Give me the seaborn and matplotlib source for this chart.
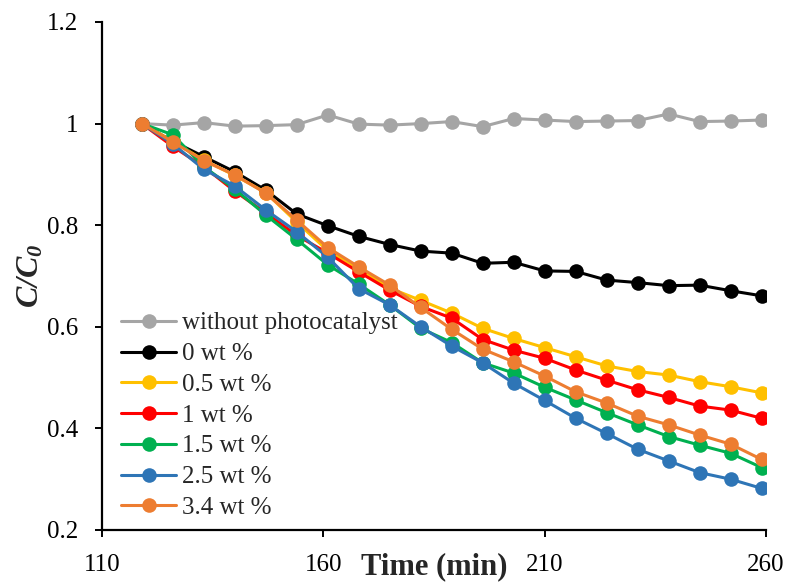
import numpy as np
import pandas as pd
import matplotlib
matplotlib.use("Agg")
import matplotlib.pyplot as plt
import seaborn as sns

# ---- data ----
time_min = [119 + 7 * i for i in range(21)]
series_names = ["without photocatalyst", "0 wt %", "0.5 wt %", "1 wt %",
                "1.5 wt %", "2.5 wt %", "3.4 wt %"]
without_photocatalyst = [1.000, 0.997, 1.002, 0.995, 0.996, 0.998, 1.017, 0.999, 0.997, 1.000,
                         1.004, 0.994, 1.010, 1.007, 1.004, 1.005, 1.006, 1.019, 1.004, 1.005, 1.007]
wt_0 = [1.000, 0.965, 0.935, 0.905, 0.869, 0.822, 0.799, 0.778, 0.762, 0.749,
        0.745, 0.725, 0.727, 0.710, 0.709, 0.692, 0.687, 0.681, 0.682, 0.671, 0.661]
wt_0_5 = [1.000, 0.965, 0.928, 0.898, 0.864, 0.806, 0.750, 0.715, 0.676, 0.652,
          0.627, 0.597, 0.577, 0.559, 0.541, 0.523, 0.512, 0.505, 0.492, 0.482, 0.470]
wt_1 = [1.000, 0.955, 0.915, 0.867, 0.824, 0.780, 0.745, 0.708, 0.672, 0.640,
        0.617, 0.575, 0.554, 0.538, 0.515, 0.495, 0.476, 0.461, 0.444, 0.436, 0.420]
wt_1_5 = [1.000, 0.978, 0.915, 0.871, 0.820, 0.772, 0.722, 0.684, 0.643, 0.597,
          0.569, 0.529, 0.509, 0.481, 0.456, 0.431, 0.407, 0.384, 0.367, 0.351, 0.323]
wt_2_5 = [1.000, 0.960, 0.910, 0.877, 0.830, 0.787, 0.737, 0.675, 0.643, 0.600,
          0.562, 0.529, 0.489, 0.455, 0.420, 0.390, 0.359, 0.336, 0.313, 0.300, 0.282]
wt_3_4 = [1.000, 0.964, 0.927, 0.899, 0.863, 0.810, 0.756, 0.718, 0.682, 0.638,
          0.595, 0.556, 0.531, 0.503, 0.472, 0.450, 0.424, 0.407, 0.387, 0.369, 0.339]
colors = ["#A5A5A5", "#000000", "#FFC000", "#FF0000", "#00B050", "#2E75B6", "#ED7D31"]
x_ticks = [110, 160, 210, 260]
y_ticks = [0.2, 0.4, 0.6, 0.8, 1.0, 1.2]
y_tick_labels = ["0.2", "0.4", "0.6", "0.8", "1", "1.2"]

all_values = [without_photocatalyst, wt_0, wt_0_5, wt_1, wt_1_5, wt_2_5, wt_3_4]
frames = []
for name, vals in zip(series_names, all_values):
    frames.append(pd.DataFrame({"Time": time_min, "C": vals, "Sample": name}))
df = pd.concat(frames, ignore_index=True)

# ---- style ----
sns.set_style("ticks")
plt.rcParams["font.family"] = ["Liberation Serif", "DejaVu Serif"]
plt.rcParams["mathtext.fontset"] = "custom"
plt.rcParams["mathtext.rm"] = "Liberation Serif"
plt.rcParams["mathtext.it"] = "Liberation Serif:italic"
plt.rcParams["mathtext.bf"] = "Liberation Serif:bold"
plt.rcParams["mathtext.bfit"] = "Liberation Serif:bold:italic"

fig = plt.figure(figsize=(8, 5.88), dpi=100)
ax = fig.add_axes([102 / 800, 1 - 530 / 588, 664 / 800, 508 / 588])

palette = dict(zip(series_names, colors))
sns.lineplot(data=df, x="Time", y="C", hue="Sample", hue_order=series_names,
             palette=palette, marker="o", markersize=10.5, markeredgewidth=0,
             linewidth=2.2, sort=False, ax=ax, legend=True)

ax.set_xlim(110, 260)
ax.set_ylim(0.2, 1.2)
ax.set_xticks(x_ticks)
ax.set_xticklabels([str(t) for t in x_ticks])
ax.set_yticks(y_ticks)
ax.set_yticklabels(y_tick_labels)

for side in ["top", "right"]:
    ax.spines[side].set_visible(False)
for side in ["left", "bottom"]:
    ax.spines[side].set_linewidth(1.6)
    ax.spines[side].set_color("black")

ax.tick_params(axis="both", direction="out", length=5, width=1.4, colors="black",
               labelsize=18, pad=12)

ax.set_xlabel("Time (min)", fontsize=22, fontweight="bold", va="center")
ax.xaxis.set_label_coords(0.5, -0.073)
ax.set_ylabel(r"$\mathbfit{C/C_0}$", fontsize=23)
ax.yaxis.set_label_coords(-0.085, 0.5)

handles, labels = ax.get_legend_handles_labels()
leg = ax.legend(handles, labels, loc="upper left",
                bbox_to_anchor=(121 / 800, 1 - 312 / 588), bbox_transform=fig.transFigure,
                frameon=False, fontsize=18, handlelength=2.2, handletextpad=0.25,
                labelspacing=0.33, borderpad=0, borderaxespad=0)
for line in leg.get_lines():
    line.set_linewidth(2.2)
    line.set_markersize(10.5)

fig.savefig("out.png", dpi=100)
